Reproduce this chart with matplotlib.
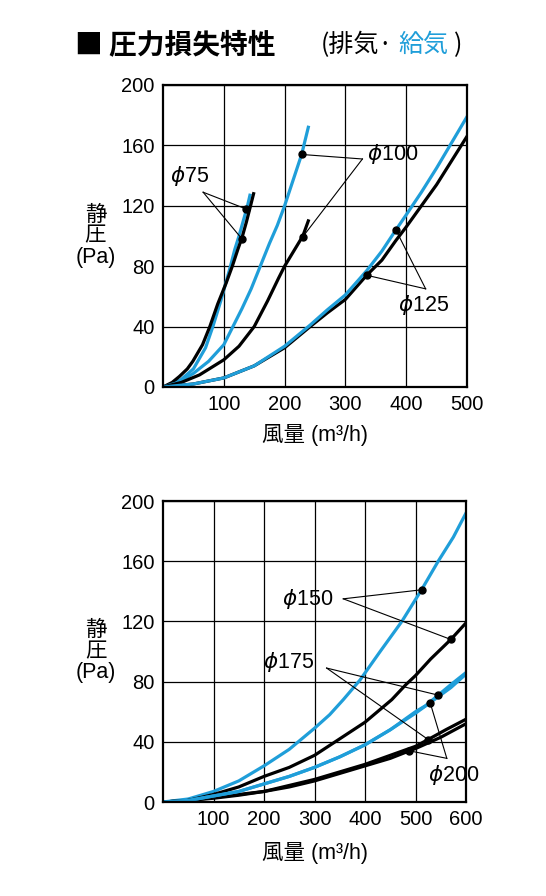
import matplotlib.pyplot as plt

plt.rcParams['font.family'] = ['Liberation Sans', 'Noto Sans CJK JP', 'DejaVu Sans']

BLUE = '#1f9ed9'

# --- top chart: phi75 / phi100 / phi125 (blue = supply, black = exhaust)
d75_sup_x = [0, 15, 30, 50, 70, 82, 95, 111, 118, 125, 132, 139, 143]
d75_sup_y = [0, 2, 5, 12, 26, 40, 57, 80, 91, 100, 110, 120, 127]
d75_exh_x = [0, 15, 27, 40, 49, 65, 77, 90, 104, 114, 123, 130, 137, 144, 149]
d75_exh_y = [0, 3, 7, 12, 17, 28, 40, 55, 69, 80, 91, 99, 109, 120, 128]

d100_sup_x = [0, 25, 50, 75, 100, 115, 130, 145, 160, 175, 188, 200, 214, 228, 239]
d100_sup_y = [0, 3, 9, 17, 28, 40, 52, 65, 80, 95, 107, 120, 137, 154, 172]
d100_exh_x = [0, 30, 60, 100, 125, 150, 172, 190, 200, 215, 230, 239]
d100_exh_y = [0, 3, 8, 18, 27, 40, 57, 72, 80, 90, 100, 110]

d125_sup_x = [0, 50, 100, 150, 200, 242, 270, 300, 335, 360, 383, 400, 425, 450, 475, 500]
d125_sup_y = [0, 2, 6, 14, 27, 41, 51, 61, 77, 90, 104, 114, 129, 145, 162, 179]
d125_exh_x = [0, 50, 100, 150, 200, 242, 270, 300, 335, 360, 383, 400, 425, 450, 475, 500]
d125_exh_y = [0, 2, 6, 14, 26, 40, 49, 58, 74, 84, 97, 106, 120, 134, 150, 166]

# --- bottom chart: phi150 / phi175 / phi200
d150_sup_x = [0, 50, 100, 150, 200, 250, 300, 330, 357, 390, 430, 473, 512, 545, 575, 600]
d150_sup_y = [0, 2, 7, 14, 24, 35, 49, 58, 68, 81, 100, 120, 141, 160, 176, 192]
d150_exh_x = [0, 50, 100, 150, 200, 250, 300, 341, 400, 453, 481, 500, 530, 570, 600]
d150_exh_y = [0, 1, 5, 10, 17, 23, 31, 40, 53, 68, 78, 84, 95, 108, 119]

d175_sup_x = [0, 50, 100, 150, 200, 250, 300, 350, 400, 450, 500, 520, 545, 570, 600]
d175_sup_y = [0, 1, 4, 7, 12, 17, 23, 30, 38, 48, 60, 64, 71, 78, 86]
d175_exh_x = [0, 50, 100, 150, 200, 250, 300, 350, 400, 450, 500, 525, 560, 600]
d175_exh_y = [0, 1, 3, 5, 7, 11, 15, 20, 25, 31, 37, 41.5, 48, 55]

d200_sup_x = [0, 50, 100, 150, 200, 250, 300, 350, 400, 450, 500, 529, 570, 600]
d200_sup_y = [0, 1, 4, 7, 12, 17, 23, 30, 38, 48, 59, 66, 76, 85]
d200_exh_x = [0, 50, 100, 150, 200, 250, 300, 350, 400, 450, 488, 500, 550, 600]
d200_exh_y = [0, 1, 2.5, 4.5, 7, 10, 14, 19, 24, 29, 34, 35.5, 43, 52]

top_xticks = [100, 200, 300, 400, 500]
bot_xticks = [100, 200, 300, 400, 500, 600]
yticks = [0, 40, 80, 120, 160, 200]

# labels: (text, text xy, leader start, [dot points])
top_labels = [
    (r'$\phi$75', (11, 140), (66, 129), [(136, 118), (130, 98)]),
    (r'$\phi$100', (336, 154), (328, 151), [(228, 154), (230, 99.5)]),
    (r'$\phi$125', (386, 54), (432, 65), [(383, 104), (335, 74)]),
]
bot_labels = [
    (r'$\phi$150', (235, 135), (357, 135), [(512, 141), (570, 108)]),
    (r'$\phi$175', (199, 93), (324, 89), [(545, 71), (525, 41.5)]),
    (r'$\phi$200', (525, 18), (562, 29), [(529, 66), (488, 34)]),
]

fig = plt.figure(figsize=(5.46, 8.96), dpi=100)
ax1 = fig.add_axes([163 / 546, 1 - 387 / 896, 304 / 546, 302 / 896])
ax2 = fig.add_axes([163 / 546, 1 - 802 / 896, 303 / 546, 301 / 896])


def style_axis(ax, xmax, xticks, xlab_y):
    ax.set_xlim(0, xmax)
    ax.set_ylim(0, 200)
    ax.set_xticks(xticks)
    ax.set_yticks(yticks)
    ax.grid(True, color='black', linewidth=0.9)
    ax.set_axisbelow(True)
    ax.tick_params(length=0, labelsize=14.5, pad=6)
    for s in ax.spines.values():
        s.set_linewidth(1.6)
    ax.set_xlabel('風量 (m³/h)', fontsize=15.5, va='center')
    ax.xaxis.set_label_coords(0.5, xlab_y)
    ax.set_ylabel('静\n圧\n(Pa)', fontsize=15.5, rotation=0, linespacing=1.0,
                  va='center', ha='center')
    ax.yaxis.set_label_coords(-0.222, 0.5)


def add_labels(ax, labels):
    for txt, txy, start, dots in labels:
        ax.text(txy[0], txy[1], txt, fontsize=15.5, va='center', ha='left')
        for d in dots:
            ax.plot([start[0], d[0]], [start[1], d[1]], color='black', lw=0.8, zorder=4)
            ax.plot(d[0], d[1], 'o', color='black', ms=5, zorder=5)


lw = 2.3
ax1.plot(d75_sup_x, d75_sup_y, color=BLUE, lw=lw)
ax1.plot(d75_exh_x, d75_exh_y, color='black', lw=lw)
ax1.plot(d100_sup_x, d100_sup_y, color=BLUE, lw=lw)
ax1.plot(d100_exh_x, d100_exh_y, color='black', lw=lw)
ax1.plot(d125_exh_x, d125_exh_y, color='black', lw=lw)
ax1.plot(d125_sup_x, d125_sup_y, color=BLUE, lw=lw)
style_axis(ax1, 500, top_xticks, -0.159)
add_labels(ax1, top_labels)

ax2.plot(d150_sup_x, d150_sup_y, color=BLUE, lw=lw)
ax2.plot(d150_exh_x, d150_exh_y, color='black', lw=lw)
ax2.plot(d175_exh_x, d175_exh_y, color='black', lw=lw)
ax2.plot(d200_exh_x, d200_exh_y, color='black', lw=lw)
ax2.plot(d175_sup_x, d175_sup_y, color=BLUE, lw=lw)
ax2.plot(d200_sup_x, d200_sup_y, color=BLUE, lw=lw)
style_axis(ax2, 600, bot_xticks, -0.169)
add_labels(ax2, bot_labels)

# title
fig.text(75 / 546, 1 - 45 / 896, '■ 圧力損失特性', fontsize=20, fontweight='bold',
         family=['Noto Sans CJK JP'], va='center', ha='left')
fig.text(321 / 546, 1 - 45 / 896, '(排気·', fontsize=18, family=['Noto Sans CJK JP'],
         va='center', ha='left')
fig.text(398 / 546, 1 - 45 / 896, '給気', fontsize=18, color=BLUE, family=['Noto Sans CJK JP'],
         va='center', ha='left')
fig.text(454 / 546, 1 - 45 / 896, ')', fontsize=18, family=['Noto Sans CJK JP'],
         va='center', ha='left')

fig.savefig('out.png', dpi=100)
